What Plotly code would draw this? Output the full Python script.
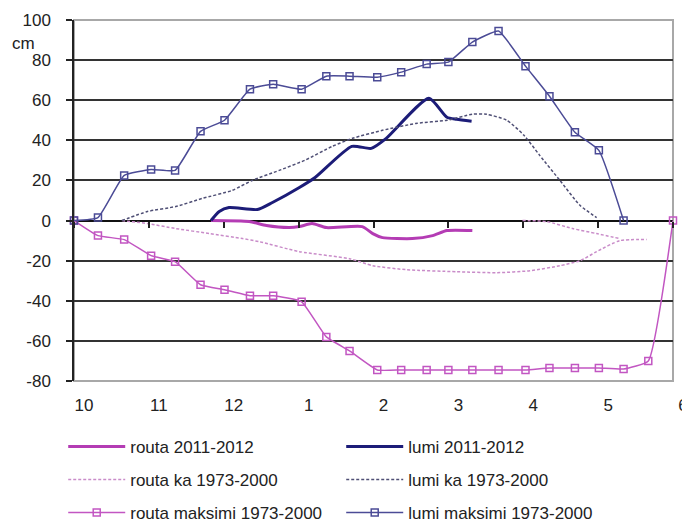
import plotly.graph_objects as go

# x values in months from 1 Oct (0 = 1.10, 8 = 1.6)
month_labels = ["10", "11", "12", "1", "2", "3", "4", "5", "6"]
month_pos = [0, 1, 2, 3, 4, 5, 6, 7, 8]
y_vals = [-80, -60, -40, -20, 0, 20, 40, 60, 80, 100]
y_labels = ["-80", "-60", "-40", "-20", "0", "20", "40", "60", "80", "100"]

maks_x = [0, 0.32, 0.67, 1.03, 1.35, 1.69, 2.01, 2.35, 2.66, 3.04, 3.37, 3.68,
          4.05, 4.37, 4.71, 5.0, 5.32, 5.67, 6.03, 6.35, 6.69, 7.01, 7.34, 7.67, 8.0]
lumi_maks = [0, 1.5, 22.5, 25.5, 25, 44.5, 50, 65.5, 68, 65.5, 72, 72,
             71.5, 74, 78, 79, 89, 94.5, 77, 62, 44, 35, 0]
routa_maks = [0, -7.5, -9.5, -17.5, -20.5, -32, -34.5, -37.5, -37.5, -40.5, -58, -65,
              -74.5, -74.5, -74.5, -74.5, -74.5, -74.5, -74.5, -73.5, -73.5, -73.5, -74, -70, 0]

lumi_ka_x = [0.64, 0.98, 1.36, 1.71, 2.11, 2.38, 2.74, 3.08, 3.45, 3.72, 4.12, 4.58,
             4.98, 5.32, 5.51, 5.78, 6.01, 6.22, 6.49, 6.76, 6.98]
lumi_ka = [0, 4.5, 7, 11, 15, 20, 25, 30, 37, 41, 45, 48.5,
           50, 53, 53, 50, 42.5, 32.5, 20, 7.5, 1.5]

routa_ka_x = [0.64, 0.98, 1.36, 1.81, 2.25, 2.47, 3.01, 3.68, 3.99, 4.44, 5.11, 5.65,
              6.09, 6.49, 6.76, 6.98, 7.29, 7.65, None, 5.99, 6.31, 6.66, 6.98, 7.29]
routa_ka = [0, -1.5, -4, -6.5, -9, -10.5, -15.5, -19, -22.5, -24.5, -25.5, -26,
            -25, -22.5, -20, -15.5, -10, -9.5, None, 0, -0.5, -4, -6.5, -9]

lumi_1112_x = [1.83, 1.94, 2.07, 2.45, 2.65, 3.01, 3.22, 3.71, 3.97, 4.17, 4.74, 4.98, 5.11, 5.31]
lumi_1112 = [0, 4.5, 6.5, 5.5, 9, 16.5, 21.5, 37, 36, 41, 61, 51.5, 50.5, 49.5]

routa_1112_x = [1.83, 2.34, 2.57, 2.88, 3.01, 3.18, 3.37, 3.85, 3.99, 4.12, 4.52, 4.79, 4.98, 5.32]
routa_1112 = [0, -0.5, -2.5, -3.5, -3, -1.5, -3.5, -3, -6.5, -8.5, -9, -7.5, -5, -5]

C_ROUTA = "#B43CB4"
C_ROUTA_M = "#C256C2"
C_ROUTA_KA = "#C98CC9"
C_LUMI = "#1C1C78"
C_LUMI_M = "#4B4B96"
C_LUMI_KA = "#4F4F75"

FONT = "Liberation Sans, Arial, sans-serif"
FS = 17

fig = go.Figure()

fig.add_trace(go.Scatter(x=routa_1112_x, y=routa_1112, mode="lines", name="routa 2011-2012",
                         line=dict(color=C_ROUTA, width=3, shape="spline", smoothing=0.6),
                         legend="legend", cliponaxis=False))
fig.add_trace(go.Scatter(x=lumi_1112_x, y=lumi_1112, mode="lines", name="lumi 2011-2012",
                         line=dict(color=C_LUMI, width=3, shape="spline", smoothing=0.6),
                         legend="legend", cliponaxis=False))
fig.add_trace(go.Scatter(x=routa_ka_x, y=routa_ka, mode="lines", name="routa ka 1973-2000",
                         line=dict(color=C_ROUTA_KA, width=1.5, dash="3px,2px", shape="spline", smoothing=0.6),
                         legend="legend2", connectgaps=False, cliponaxis=False))
fig.add_trace(go.Scatter(x=lumi_ka_x, y=lumi_ka, mode="lines", name="lumi ka 1973-2000",
                         line=dict(color=C_LUMI_KA, width=1.5, dash="3px,2px", shape="spline", smoothing=0.6),
                         legend="legend2", cliponaxis=False))
fig.add_trace(go.Scatter(x=maks_x, y=routa_maks, mode="lines+markers", name="routa maksimi 1973-2000",
                         line=dict(color=C_ROUTA_M, width=1.5, shape="spline", smoothing=0.4),
                         marker=dict(symbol="square-open", size=7, color=C_ROUTA_M, line=dict(width=1.5)),
                         legend="legend3", cliponaxis=False))
fig.add_trace(go.Scatter(x=maks_x[:len(lumi_maks)], y=lumi_maks, mode="lines+markers", name="lumi maksimi 1973-2000",
                         line=dict(color=C_LUMI_M, width=1.5, shape="spline", smoothing=0.4),
                         marker=dict(symbol="square-open", size=7, color=C_LUMI_M, line=dict(width=1.5)),
                         legend="legend3", cliponaxis=False))

legend_common = dict(orientation="h", entrywidth=206, entrywidthmode="pixels", itemwidth=57,
                     font=dict(family=FONT, size=FS, color="#222"), bgcolor="rgba(0,0,0,0)",
                     xanchor="left", yanchor="middle", x=-0.018)

fig.update_layout(
    width=690, height=523,
    margin=dict(l=66, r=25, t=12, b=150, autoexpand=False),
    plot_bgcolor="white", paper_bgcolor="white",
    font=dict(family=FONT, size=FS, color="#222"),
    legend=dict(**legend_common, y=-0.1828),
    legend2=dict(**legend_common, y=-0.2742),
    legend3=dict(**legend_common, y=-0.3657),
    xaxis=dict(range=[0, 8], anchor="free", position=80 / 180,
               tickvals=month_pos, ticktext=month_labels,
               ticks="outside", ticklen=6, tickcolor="#222", tickwidth=1.5,
               ticklabelshift=10, ticklabelstandoff=163, ticklabeloverflow="allow",
               showgrid=False, zeroline=False, showline=False, automargin=False,
               tickfont=dict(family=FONT, size=FS, color="#222")),
    yaxis=dict(range=[-80, 100], tickvals=y_vals, ticktext=y_labels,
               showgrid=True, gridcolor="#333", gridwidth=1.5,
               zeroline=True, zerolinecolor="#111", zerolinewidth=1.5,
               showline=True, linecolor="#222", linewidth=1.5,
               ticks="outside", ticklen=6, tickcolor="#222", tickwidth=1.5,
               ticklabelstandoff=12, automargin=False,
               tickfont=dict(family=FONT, size=FS, color="#222")),
    shapes=[dict(type="rect", xref="paper", yref="paper", x0=0, x1=1, y0=0, y1=1,
                 line=dict(color="#A8A8A8", width=2), layer="between")],
    annotations=[dict(text="cm", xref="paper", yref="y", x=-0.085, y=88.5,
                      xanchor="center", yanchor="middle",
                      showarrow=False, font=dict(family=FONT, size=FS, color="#222"))],
)

fig.write_html("out.html")
